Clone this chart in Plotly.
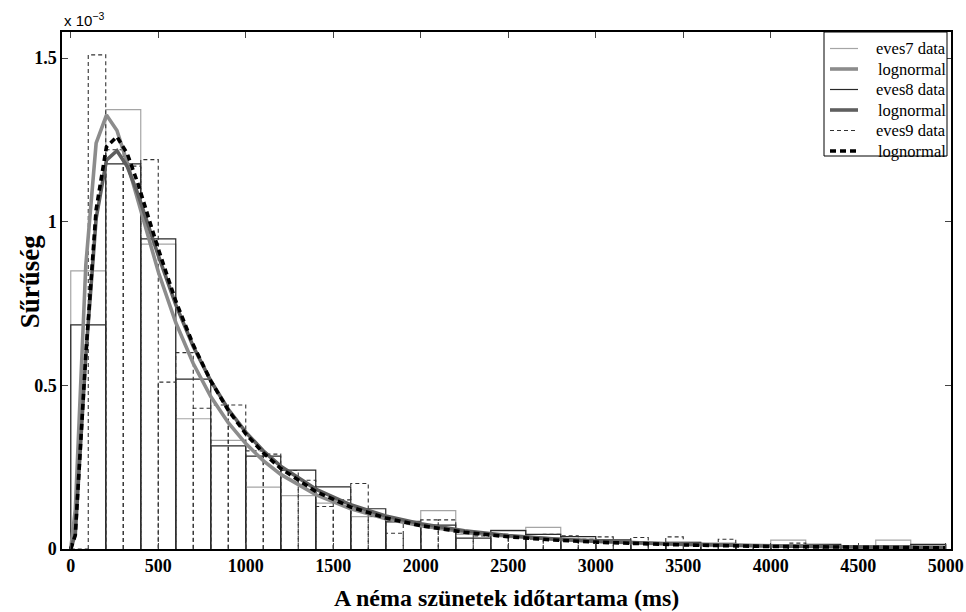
import plotly.graph_objects as go

# ---------------- data (density values in units of 1e-3) ----------------
edges_200 = list(range(0, 5001, 200))   # bin edges for eves7 / eves8
edges_100 = list(range(0, 5001, 100))   # bin edges for eves9

eves7_hist = [0.850, 1.343, 0.932, 0.398, 0.332, 0.189, 0.163, 0.140, 0.099, 0.085,
              0.117, 0.045, 0.058, 0.066, 0.030, 0.025, 0.018, 0.020, 0.012, 0.008,
              0.027, 0.012, 0.008, 0.027, 0.012]

eves8_hist = [0.685, 1.177, 0.948, 0.519, 0.315, 0.284, 0.241, 0.190, 0.123, 0.083,
              0.073, 0.033, 0.056, 0.045, 0.038, 0.028, 0.018, 0.020, 0.017, 0.010,
              0.012, 0.014, 0.008, 0.010, 0.014]

eves9_hist = [0.000, 1.510, 1.220, 1.170, 1.190, 0.510, 0.600, 0.430, 0.440, 0.440,
              0.300, 0.290, 0.240, 0.210, 0.130, 0.150, 0.200, 0.100, 0.048, 0.075,
              0.089, 0.089, 0.050, 0.040, 0.045, 0.035, 0.030, 0.045, 0.040, 0.030,
              0.037, 0.020, 0.035, 0.015, 0.037, 0.015, 0.012, 0.030, 0.010, 0.008,
              0.010, 0.018, 0.006, 0.006, 0.005, 0.004, 0.006, 0.004, 0.004, 0.003]

curve_x = [0, 26, 86, 145, 204, 264, 323, 383, 442, 502, 600, 700, 800, 900, 1000,
           1100, 1200, 1400, 1600, 1800, 2000, 2250, 2500, 2750, 3000, 3500, 4000,
           4500, 5000]

eves7_logn = [0.0, 0.120, 0.867, 1.240, 1.326, 1.279, 1.180, 1.064, 0.951, 0.844,
              0.692, 0.567, 0.466, 0.386, 0.322, 0.270, 0.228, 0.166, 0.1227, 0.0927,
              0.0712, 0.0522, 0.0390, 0.0297, 0.0229, 0.0142, 0.0092, 0.0061, 0.0042]

eves8_logn = [0.0, 0.046, 0.590, 1.010, 1.188, 1.217, 1.169, 1.086, 0.991, 0.894,
              0.747, 0.619, 0.514, 0.427, 0.357, 0.300, 0.253, 0.183, 0.135, 0.101,
              0.0770, 0.0558, 0.0413, 0.0310, 0.0236, 0.0143, 0.0090, 0.0059, 0.0040]

eves9_logn = [0.0, 0.042, 0.594, 1.037, 1.229, 1.260, 1.208, 1.118, 1.017, 0.914,
              0.758, 0.624, 0.514, 0.424, 0.352, 0.294, 0.246, 0.176, 0.128, 0.0948,
              0.0714, 0.0511, 0.0373, 0.0277, 0.0209, 0.0124, 0.0077, 0.0049, 0.0033]

x_ticks = [0, 500, 1000, 1500, 2000, 2500, 3000, 3500, 4000, 4500, 5000]
y_ticks = [0, 0.5, 1.0, 1.5]
y_ticklabels = ["0", "0.5", "1", "1.5"]

names = ["eves7 data", "lognormal", "eves8 data", "lognormal", "eves9 data", "lognormal"]
x_title = "A néma szünetek időtartama (ms)"
y_title = "Sűrűség"


def outline(edges, heights):
    xs, ys = [], []
    for i, h in enumerate(heights):
        x0, x1 = edges[i], edges[i + 1]
        xs += [x0, x0, x1, x1, None]
        ys += [0, h, h, 0, None]
    return xs, ys


FONT = "Liberation Serif"

styles = [
    dict(color="rgb(165,165,165)", width=1.2),
    dict(color="rgb(140,140,140)", width=3.6),
    dict(color="rgb(40,40,40)", width=1.2),
    dict(color="rgb(95,95,95)", width=3.6),
    dict(color="rgb(50,50,50)", width=1.1, dash="4px,3px"),
    dict(color="black", width=3.6, dash="6px,4px"),
]

fig = go.Figure()

x7, y7 = outline(edges_200, eves7_hist)
x8, y8 = outline(edges_200, eves8_hist)
x9, y9 = outline(edges_100, eves9_hist)

fig.add_trace(go.Scatter(x=x7, y=y7, mode="lines", name=names[0], line=styles[0]))
fig.add_trace(go.Scatter(x=x8, y=y8, mode="lines", name=names[2], line=styles[2]))
fig.add_trace(go.Scatter(x=x9, y=y9, mode="lines", name=names[4], line=styles[4]))
fig.add_trace(go.Scatter(x=curve_x, y=eves7_logn, mode="lines", name=names[1], line=styles[1]))
fig.add_trace(go.Scatter(x=curve_x, y=eves8_logn, mode="lines", name=names[3], line=styles[3]))
fig.add_trace(go.Scatter(x=curve_x, y=eves9_logn, mode="lines", name=names[5], line=styles[5]))

# ---- compact MATLAB-style legend (box, samples, right-aligned labels) ----
H = 517.0
W = 889.0
def px_x(p): return (p - 62) / W
def px_y(p): return (549 - p) / H

shapes = [dict(type="rect", xref="paper", yref="paper",
               x0=px_x(824), x1=px_x(947), y0=px_y(156), y1=px_y(32),
               line=dict(color="black", width=1), fillcolor="white", layer="above")]
annotations = []
row_y = [48.5, 69, 89.5, 110, 130.5, 151]
for i, nm in enumerate(names):
    yy = px_y(row_y[i])
    shapes.append(dict(type="line", xref="paper", yref="paper",
                       x0=px_x(830), x1=px_x(858), y0=yy, y1=yy,
                       line=styles[i], layer="above"))
    annotations.append(dict(text=nm, xref="paper", yref="paper", x=px_x(947), y=yy,
                            xanchor="right", yanchor="middle", showarrow=False,
                            height=19, borderpad=0,
                            font=dict(family=FONT, size=16.5)))

annotations += [
    dict(text="x 10<sup>\u22123</sup>", xref="paper", yref="paper",
         x=0.0, y=1.0, xanchor="left", yanchor="bottom", yshift=1,
         showarrow=False, font=dict(family="Liberation Sans", size=15)),
    dict(text=x_title, xref="paper", yref="paper", x=0.5, y=-0.0948,
         xanchor="center", yanchor="middle", showarrow=False,
         font=dict(family=FONT, size=24, weight="bold")),
    dict(text=y_title, xref="paper", yref="paper", x=-0.036, y=0.518,
         xanchor="center", yanchor="middle", textangle=-90, showarrow=False,
         font=dict(family=FONT, size=27, weight="bold")),
]

fig.update_layout(
    width=966, height=612,
    margin=dict(l=62, r=15, t=32, b=63),
    paper_bgcolor="white", plot_bgcolor="white",
    font=dict(family=FONT, color="black", size=16),
    showlegend=False,
    xaxis=dict(range=[-50, 5030], tickvals=x_ticks, ticks="inside", ticklen=6,
               showline=True, mirror="ticks", linecolor="black", linewidth=1.5,
               showgrid=False, zeroline=False, automargin=False,
               tickfont=dict(family=FONT, size=18, weight="bold")),
    yaxis=dict(range=[0, 1.58], tickvals=y_ticks, ticktext=y_ticklabels,
               ticks="inside", ticklen=6,
               showline=True, mirror="ticks", linecolor="black", linewidth=1.5,
               showgrid=False, zeroline=False, automargin=False,
               tickfont=dict(family=FONT, size=18, weight="bold")),
    shapes=shapes,
    annotations=annotations,
)

fig.write_html("out.html")
